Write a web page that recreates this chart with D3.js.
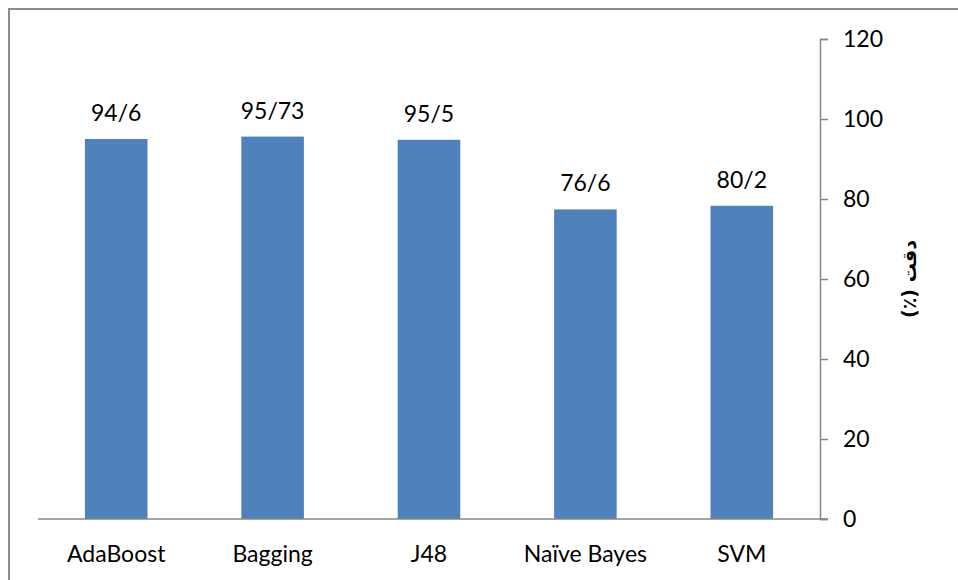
<!DOCTYPE html>
<html>
<head>
    <meta charset="UTF-8">
    <title></title>
    <style>
        body { margin: 0; background: #fff; }
        svg text { font-family: Lato, "Open Sans", sans-serif; fill: #000; }
    </style>
    <script src="https://cdn.jsdelivr.net/npm/d3@7/dist/d3.min.js"></script>
</head>
<body>
<svg id="chart" width="958" height="580"></svg>
<script>
    var categories = ['AdaBoost', 'Bagging', 'J48', 'Naïve Bayes', 'SVM'];
    var barValues = [95.0, 95.6, 94.8, 77.4, 78.3];
    var valueLabels = ['94/6', '95/73', '95/5', '76/6', '80/2'];
    var yTicks = [0, 20, 40, 60, 80, 100, 120];
    var yTitle = 'دقت (٪)';

    var plotLeft = 38, plotRight = 820, plotTop = 39, plotBottom = 519;

    var svg = d3.select('#chart');

    // chart frame (right/bottom edges fall outside the picture)
    svg.append('rect')
        .attr('x', 9).attr('y', 9)
        .attr('width', 1000).attr('height', 1000)
        .attr('fill', 'none')
        .attr('stroke', '#8c8c8c')
        .attr('stroke-width', 2);

    var x = d3.scaleBand()
        .domain(categories)
        .range([plotLeft, plotRight])
        .paddingInner(0.6)
        .paddingOuter(0.3);

    var y = d3.scaleLinear()
        .domain([0, 120])
        .range([plotBottom, plotTop]);

    // bars
    svg.selectAll('rect.bar')
        .data(barValues)
        .enter()
        .append('rect')
        .attr('class', 'bar')
        .attr('x', function (d, i) { return x(categories[i]); })
        .attr('y', function (d) { return y(d); })
        .attr('width', x.bandwidth())
        .attr('height', function (d) { return y(0) - y(d); })
        .attr('fill', '#4f81bd');

    // value labels
    svg.selectAll('text.val')
        .data(barValues)
        .enter()
        .append('text')
        .attr('class', 'val')
        .attr('x', function (d, i) { return x(categories[i]) + x.bandwidth() / 2; })
        .attr('y', function (d) { return y(d) - 18; })
        .attr('text-anchor', 'middle')
        .style('font-size', '23px')
        .text(function (d, i) { return valueLabels[i]; });

    // x axis line
    svg.append('line')
        .attr('x1', plotLeft).attr('x2', plotRight + 8)
        .attr('y1', plotBottom).attr('y2', plotBottom)
        .attr('stroke', '#868686').attr('stroke-width', 1.5);

    // category labels
    svg.selectAll('text.cat')
        .data(categories)
        .enter()
        .append('text')
        .attr('class', 'cat')
        .attr('x', function (d) { return x(d) + x.bandwidth() / 2; })
        .attr('y', 562)
        .attr('text-anchor', 'middle')
        .style('font-size', '23px')
        .text(function (d) { return d; });

    // right y axis
    var yAxis = d3.axisRight(y)
        .tickValues(yTicks)
        .tickSize(8)
        .tickPadding(15)
        .tickFormat(d3.format('d'));

    var ax = svg.append('g')
        .attr('transform', 'translate(' + plotRight + ',0)')
        .call(yAxis);

    ax.select('.domain').attr('stroke', '#868686').attr('stroke-width', 1.5);
    ax.selectAll('.tick line').attr('stroke', '#868686').attr('stroke-width', 1.5);
    ax.selectAll('.tick text')
        .style('font-size', '23px')
        .style('font-family', 'Lato, sans-serif')
        .attr('fill', '#000');

    // axis title (rtl so that دقت comes first, at the top)
    svg.append('text')
        .attr('transform', 'translate(910,' + y(60) + ') rotate(-90)')
        .attr('text-anchor', 'middle')
        .attr('dominant-baseline', 'middle')
        .style('direction', 'rtl')
        .style('unicode-bidi', 'embed')
        .style('font-family', '"DejaVu Sans", sans-serif')
        .style('font-size', '19px')
        .style('font-weight', 'bold')
        .text(yTitle);
</script>
</body>
</html>
